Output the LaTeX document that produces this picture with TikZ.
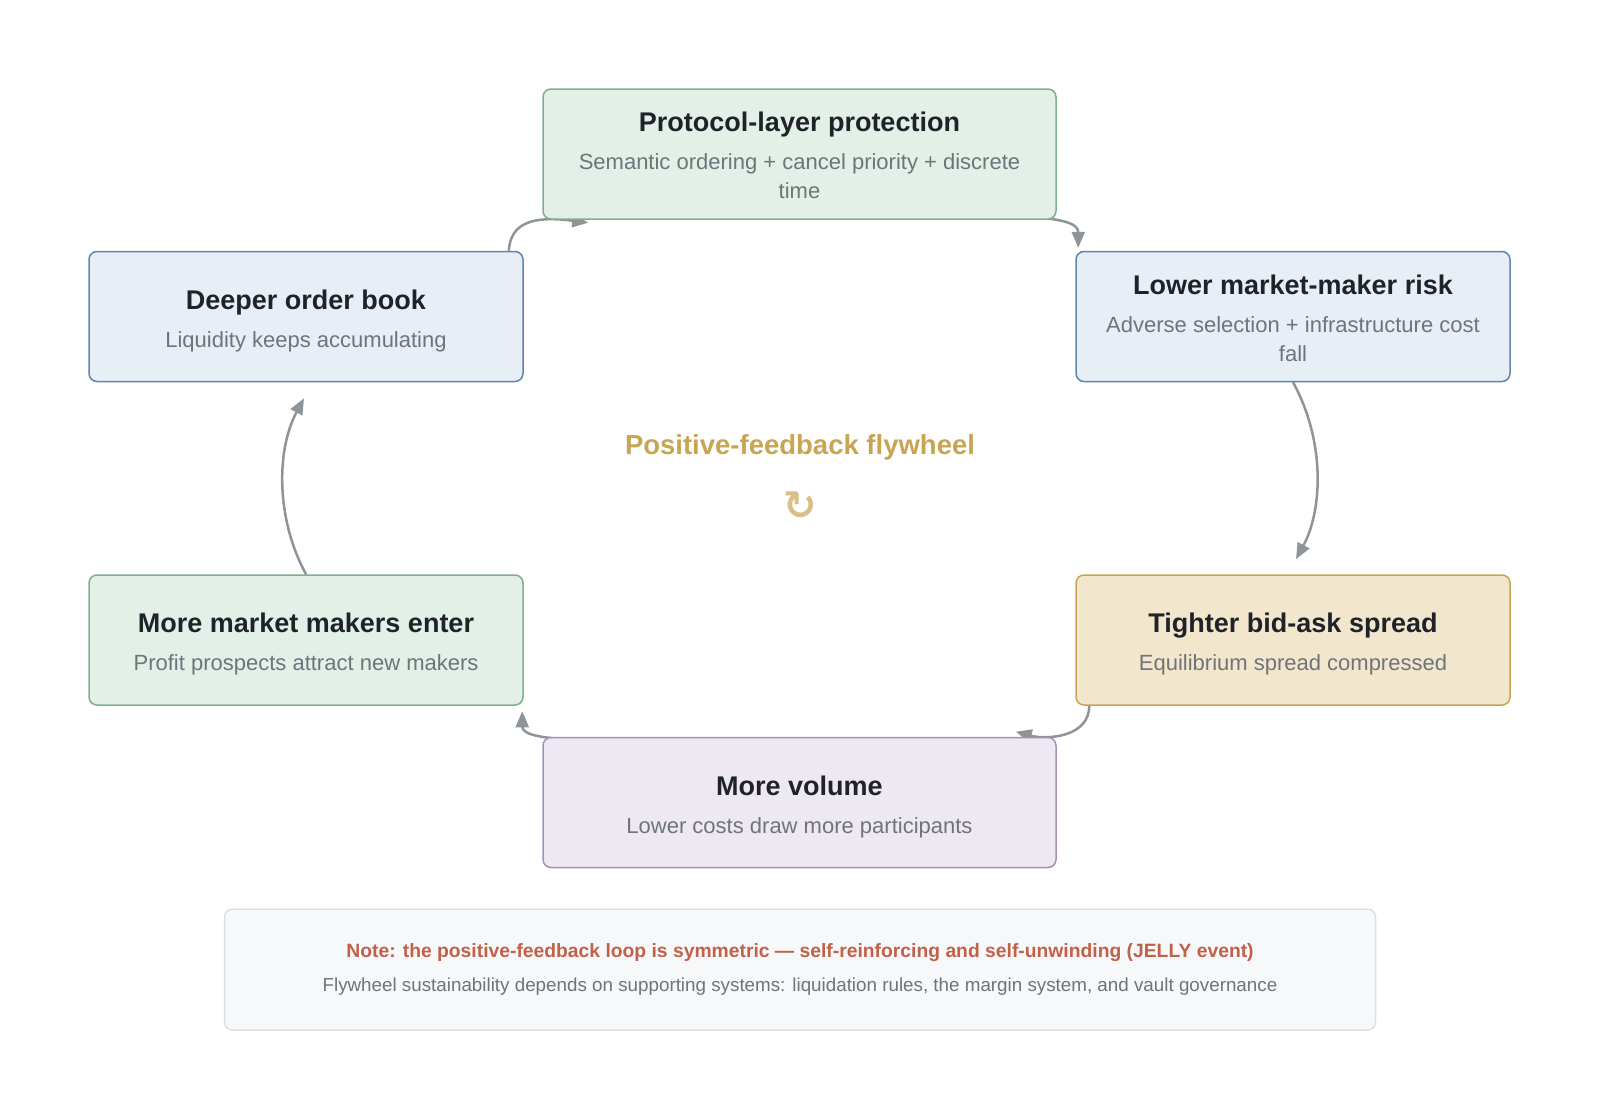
\documentclass[tikz,border=0pt]{standalone}
\usepackage{fontspec}
\setmainfont{Liberation Sans}
\newfontfamily\symfont{DejaVu Sans}
\usetikzlibrary{arrows.meta,backgrounds}
\definecolor{greenfill}{HTML}{E3F0E8}
\definecolor{greenline}{HTML}{7DB08F}
\definecolor{bluefill}{HTML}{E8EEF6}
\definecolor{blueline}{HTML}{5F84AD}
\definecolor{yellowfill}{HTML}{F2E6CC}
\definecolor{yellowline}{HTML}{C9A44F}
\definecolor{purplefill}{HTML}{EEE8F3}
\definecolor{purpleline}{HTML}{A68FB8}
\definecolor{notefill}{HTML}{F7F8F9}
\definecolor{noteline}{HTML}{DDE0E3}
\definecolor{titlecol}{HTML}{1F2329}
\definecolor{subcol}{HTML}{6E747A}
\definecolor{hubgold}{HTML}{C8A552}
\definecolor{hublight}{HTML}{D9BF85}
\definecolor{notered}{HTML}{C2614A}
\definecolor{linkcol}{HTML}{8E9497}
\newcommand{\fwtitle}[2][28pt]{{\color{titlecol}\bfseries\fontsize{27}{30}\selectfont\rule{0pt}{#1}#2}}
\begin{document}
\begin{tikzpicture}[x=1pt,y=-1pt,
  fwbox/.style={draw, rounded corners=8pt, line width=1.5pt, minimum height=130pt,
    inner xsep=22pt, align=flush center, text=subcol, font=\fontsize{22}{29}\selectfont},
  wide/.style={text width=469pt},
  narrow/.style={text width=390pt},
  greenbox/.style={fwbox, fill=greenfill, draw=greenline},
  bluebox/.style={fwbox, fill=bluefill, draw=blueline},
  yellowbox/.style={fwbox, fill=yellowfill, draw=yellowline},
  purplebox/.style={fwbox, fill=purplefill, draw=purpleline},
  link/.style={draw=linkcol, line width=2.5pt, -{Triangle[length=16pt,width=13pt]}}]
\useasboundingbox (0,0) rectangle (1600,1119);
\node[greenbox, wide] (fw0) at (799.5,154){\fwtitle[23pt]{Protocol-layer protection}\\[9pt]Semantic ordering + cancel priority + discrete\\time};
\node[bluebox, narrow] (fw1) at (1293,316.5){\fwtitle[23pt]{Lower market-maker risk}\\[9pt]Adverse selection + infrastructure cost\\fall};
\node[yellowbox, narrow] (fw2) at (1293,640){\fwtitle{Tighter bid-ask spread}\\[9pt]Equilibrium spread compressed};
\node[purplebox, wide] (fw3) at (799.5,802.5){\fwtitle{More volume}\\[9pt]Lower costs draw more participants};
\node[greenbox, narrow] (fw4) at (306,640){\fwtitle{More market makers enter}\\[9pt]Profit prospects attract new makers};
\node[bluebox, narrow] (fw5) at (306,316.5){\fwtitle{Deeper order book}\\[9pt]Liquidity keeps accumulating};
\node[text=hubgold, font=\bfseries\fontsize{27.5}{30}\selectfont] (hub) at (800,447){Positive-feedback flywheel};
\node[text=hublight, font=\symfont\bfseries\fontsize{40}{42}\selectfont] (hubsym) at (800,506){↻};
\node[draw=noteline, fill=notefill, rounded corners=8pt, line width=1.5pt, minimum width=1151pt,
  minimum height=121pt, align=center, text=subcol, font=\fontsize{18.8}{34}\selectfont] (note) at (800,969.5)
  {{\color{notered}\bfseries\fontsize{19.3}{34}\selectfont Note: the positive-feedback loop is symmetric — self-reinforcing and self-unwinding (JELLY event)}\\
  Flywheel sustainability depends on supporting systems: liquidation rules, the margin system, and vault governance};
\begin{scope}[on background layer]
\draw[link] ([xshift=-15pt]fw5.north east) .. controls +(2,-29) and +(-54,-7) .. ([xshift=46pt,yshift=-3pt]fw0.south west);
\draw[link] ([xshift=-51pt,yshift=3pt]fw0.south east) .. controls +(58,0) and +(0,-24) .. ([xshift=3pt,yshift=3pt]fw1.north west);
\draw[link] (fw1.south) .. controls +(32,58) and +(27,-50) .. ([xshift=3pt,yshift=15pt]fw2.north);
\draw[link] ([xshift=14pt]fw2.south west) .. controls +(0,32) and +(30,8) .. ([xshift=-41pt,yshift=5pt]fw3.north east);
\draw[link] ([xshift=54pt,yshift=-3pt]fw3.north west) .. controls +(-52,0) and +(0,24) .. ([xshift=-1.5pt,yshift=-5.5pt]fw4.south east);
\draw[link] (fw4.north) .. controls +(-30,-55) and +(-28,52) .. ([xshift=-2pt,yshift=-16pt]fw5.south);
\end{scope}
\end{tikzpicture}
\end{document}
